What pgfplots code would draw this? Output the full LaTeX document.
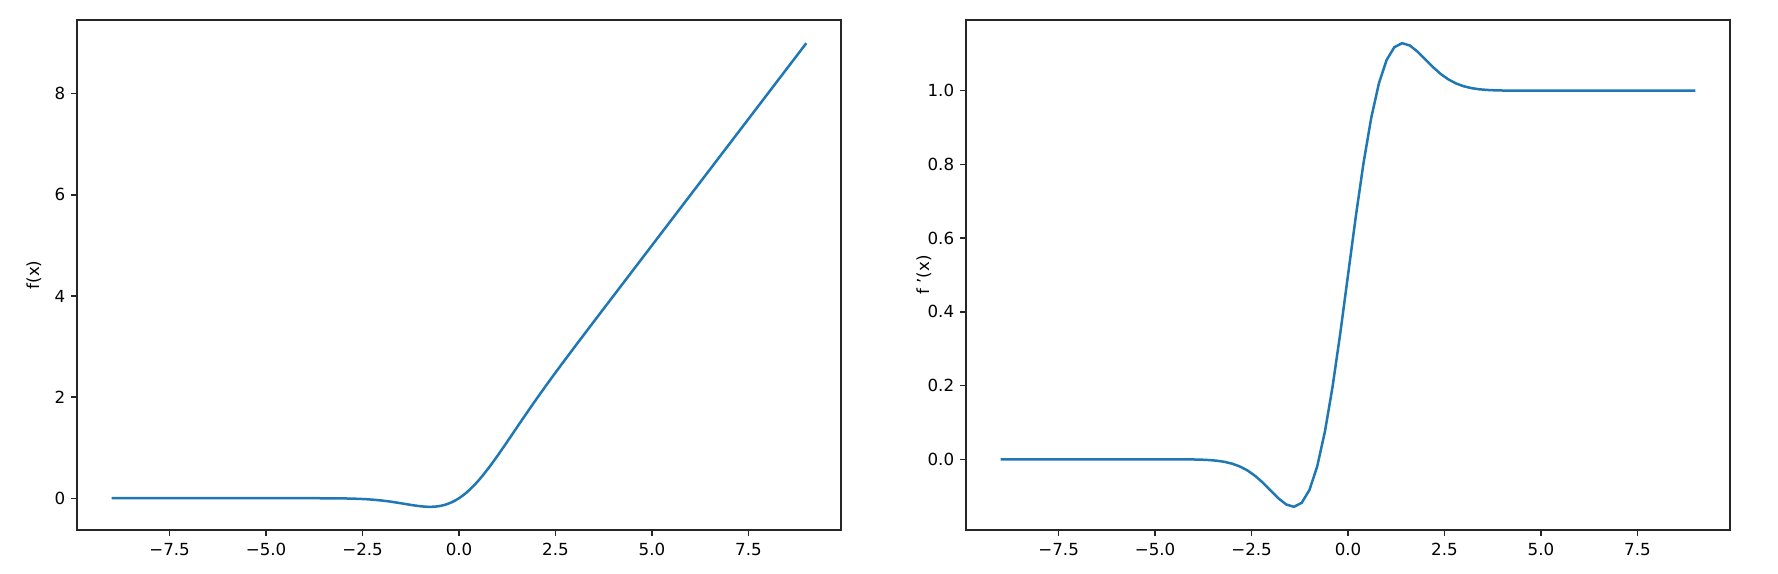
\documentclass[border=0pt]{standalone}
\usepackage{pgfplots}
\pgfplotsset{compat=1.18}
\usepackage{fontspec}
\setmainfont{DejaVu Sans}
\definecolor{mplblue}{HTML}{1F77B4}
\begin{document}
\begin{tikzpicture}
\path[use as bounding box] (-46.2pt,-26.4pt) rectangle (1020.6pt,318pt);
\pgfplotsset{
  every axis/.append style={
    scale only axis, width=458.4pt, height=306pt,
    axis line style={line width=0.8pt, black!85},
    tick style={line width=0.8pt, black!85},
    tick align=outside, major tick length=3.6pt,
    xtick pos=bottom, ytick pos=left,
    font=\fontsize{10}{12}\selectfont,
    /pgf/number format/assume math mode=true,
    xmin=-9.9, xmax=9.9,
    xtick={-7.5,-5,-2.5,0,2.5,5,7.5},
    xticklabels={−7.5,−5.0,−2.5,0.0,2.5,5.0,7.5},
    xticklabel style={yshift=-1pt},
    clip=false,
  },
}
\begin{axis}[
  at={(0pt,0pt)}, anchor=south west,
  ymin=-0.6285, ymax=9.4585,
  ytick={0,2,4,6,8}, yticklabels={0,2,4,6,8},
  ylabel={f(x)},
  ylabel style={at={(axis description cs:-0.0563,0.5)}, anchor=center, rotate=0},
]
\addplot[mplblue, line width=1.5pt] coordinates {
(-9,0) (-8,0) (-7,0) (-6,0) (-5,-0.0000014) (-4.5,-0.0000153) (-4,-0.000128)
(-3.8,-0.000274) (-3.6,-0.000572) (-3.4,-0.001146) (-3.2,-0.002198) (-3.0,-0.004050)
(-2.8,-0.007154) (-2.6,-0.012119) (-2.4,-0.019675) (-2.2,-0.030587) (-2.0,-0.045500)
(-1.8,-0.064674) (-1.6,-0.087678) (-1.4,-0.113060) (-1.2,-0.138084) (-1.0,-0.158655)
(-0.9,-0.165632) (-0.8,-0.169484) (-0.75,-0.169970) (-0.7,-0.169302) (-0.6,-0.164552)
(-0.5,-0.154269) (-0.4,-0.137831) (-0.3,-0.114627) (-0.2,-0.084148) (-0.1,-0.046017)
(0,0) (0.1,0.053983) (0.2,0.115852) (0.3,0.185373) (0.4,0.262169) (0.5,0.345731)
(0.6,0.435448) (0.8,0.630516) (1.0,0.841345) (1.2,1.061916) (1.4,1.286940)
(1.6,1.512322) (1.8,1.735326) (2.0,1.954500) (2.2,2.169413) (2.4,2.380325)
(2.6,2.587881) (2.8,2.792846) (3.0,2.995950) (3.2,3.197802) (3.4,3.398854)
(3.6,3.599428) (3.8,3.799726) (4.0,3.999872) (4.5,4.499985) (5,5) (6,6) (7,7) (8,8) (9,9)
};
\end{axis}
\begin{axis}[
  at={(533.4pt,0pt)}, anchor=south west,
  ymin=-0.1918, ymax=1.1918,
  ytick={0,0.2,0.4,0.6,0.8,1.0}, yticklabels={0.0,0.2,0.4,0.6,0.8,1.0},
  ylabel={f '(x)},
  ylabel style={at={(axis description cs:-0.055,0.5)}, anchor=center, rotate=0},
]
\addplot[mplblue, line width=1.5pt] coordinates {
(-9,0) (-8,0) (-7,0) (-6,-0.0000001) (-5,-0.0000071) (-4.5,-0.0000612) (-4,-0.000504)
(-3.8,-0.001038) (-3.6,-0.002044) (-3.4,-0.003852) (-3.2,-0.006942) (-3.0,-0.011946)
(-2.8,-0.019607) (-2.6,-0.030655) (-2.4,-0.045550) (-2.2,-0.064142) (-2.0,-0.085232)
(-1.8,-0.106180) (-1.6,-0.122675) (-1.4,-0.128861) (-1.2,-0.117953) (-1.0,-0.083316)
(-0.8,-0.019899) (-0.6,0.074318) (-0.4,0.197270) (-0.2,0.342531) (0,0.5)
(0.2,0.657469) (0.4,0.802730) (0.6,0.925682) (0.8,1.019899) (1.0,1.083316)
(1.2,1.117953) (1.4,1.128861) (1.6,1.122675) (1.8,1.106180) (2.0,1.085232)
(2.2,1.064142) (2.4,1.045550) (2.6,1.030655) (2.8,1.019607) (3.0,1.011946)
(3.2,1.006942) (3.4,1.003852) (3.6,1.002044) (3.8,1.001038) (4.0,1.000504)
(4.5,1.000061) (5,1.000007) (6,1) (7,1) (8,1) (9,1)
};
\end{axis}
\end{tikzpicture}
\end{document}
